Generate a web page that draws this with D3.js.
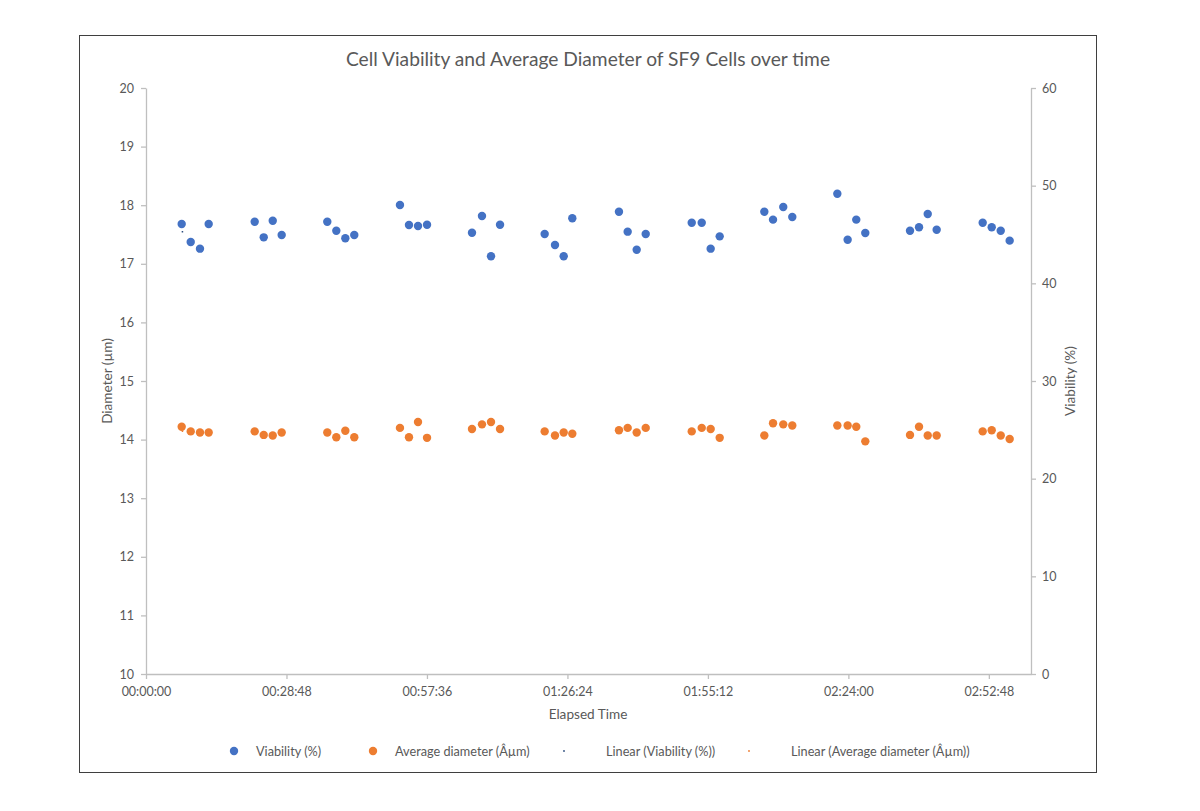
<!DOCTYPE html>
<html>
<head>
<meta charset="utf-8">
<script src="https://cdn.jsdelivr.net/npm/d3@7"></script>
<style>
  html, body { margin: 0; padding: 0; background: #ffffff; }
  svg { display: block; font-family: Lato, "Noto Sans", sans-serif; }
</style>
</head>
<body>
<svg id="chart" width="1200" height="811"></svg>
<script>
// ---- Data ----
const times = [
  "00:07:19","00:09:10","00:11:04","00:12:51",
  "00:22:17","00:24:08","00:25:59","00:27:49",
  "00:37:10","00:39:01","00:40:52","00:42:42",
  "00:52:04","00:53:55","00:55:46","00:57:37",
  "01:06:50","01:08:53","01:10:44","01:12:35",
  "01:21:44","01:23:51","01:25:38","01:27:24",
  "01:36:58","01:38:45","01:40:36","01:42:27",
  "01:51:53","01:53:56","01:55:46","01:57:37",
  "02:06:46","02:08:33","02:10:39","02:12:30",
  "02:21:44","02:23:51","02:25:37","02:27:28",
  "02:36:38","02:38:29","02:40:16","02:42:06",
  "02:51:32","02:53:23","02:55:14","02:57:04"
];
const viability = [
  46.07, 44.23, 43.55, 46.07,
  46.31, 44.71, 46.41, 44.95,
  46.31, 45.39, 44.61, 44.95,
  48.02, 45.97, 45.87, 46.00,
  45.18, 46.89, 42.77, 46.00,
  45.05, 43.92, 42.77, 46.66,
  47.33, 45.29, 43.44, 45.05,
  46.21, 46.21, 43.55, 44.81,
  47.33, 46.52, 47.82, 46.79,
  49.18, 44.47, 46.52, 45.15,
  45.39, 45.74, 47.10, 45.49,
  46.21, 45.74, 45.39, 44.37
];
const diameter = [
  14.22, 14.14, 14.12, 14.12,
  14.14, 14.08, 14.07, 14.12,
  14.12, 14.04, 14.15, 14.04,
  14.20, 14.04, 14.30, 14.03,
  14.18, 14.26, 14.30, 14.18,
  14.14, 14.07, 14.12, 14.10,
  14.16, 14.20, 14.12, 14.20,
  14.14, 14.20, 14.18, 14.03,
  14.07, 14.28, 14.26, 14.24,
  14.24, 14.24, 14.22, 13.97,
  14.08, 14.22, 14.07, 14.07,
  14.14, 14.16, 14.07, 14.01
];
const xTickLabels = ["00:00:00","00:28:48","00:57:36","01:26:24","01:55:12","02:24:00","02:52:48"];
const leftTicks = [10, 11, 12, 13, 14, 15, 16, 17, 18, 19, 20];
const rightTicks = [0, 10, 20, 30, 40, 50, 60];
const seriesNames = ["Viability (%)", "Average diameter (Âµm)", "Linear (Viability (%))", "Linear (Average diameter (Âµm))"];
const chartTitle = "Cell Viability and Average Diameter of SF9 Cells over time";

// ---- Helpers ----
const toSec = s => { const p = s.split(":").map(Number); return p[0]*3600 + p[1]*60 + p[2]; };
const fmt = sec => { const h = Math.floor(sec/3600), m = Math.floor((sec%3600)/60), s = Math.round(sec%60);
  return [h,m,s].map(v => String(v).padStart(2,"0")).join(":"); };
const secs = times.map(toSec);

const blue = "#4472C4", orange = "#ED7D31", textCol = "#595959", axisCol = "#bfbfbf";

const svg = d3.select("#chart");
const M = { left: 146, right: 1031, top: 88, bottom: 674 };

// Frame
svg.append("rect").attr("x", 79.5).attr("y", 35.5).attr("width", 1017).attr("height", 737)
  .attr("fill", "#fff").attr("stroke", "#3f3f3f").attr("stroke-width", 1);

// Scales
const x = d3.scaleLinear().domain([0, 0.126 * 86400]).range([M.left, M.right]);
const yL = d3.scaleLinear().domain([10, 20]).range([M.bottom, M.top]);
const yR = d3.scaleLinear().domain([0, 60]).range([M.bottom, M.top]);

// Axes
const xAxis = d3.axisBottom(x).tickValues(xTickLabels.map(toSec)).tickFormat(fmt).tickSize(5).tickSizeOuter(0);
const lAxis = d3.axisLeft(yL).tickValues(leftTicks).tickSize(5).tickSizeOuter(0);
const rAxis = d3.axisRight(yR).tickValues(rightTicks).tickSize(5).tickSizeOuter(0);

function styleAxis(g) {
  g.selectAll("path.domain").attr("stroke", axisCol).attr("stroke-width", 1.3);
  g.selectAll(".tick line").attr("stroke", axisCol).attr("stroke-width", 1.3);
  g.selectAll(".tick text").attr("fill", textCol).style("font-size", "12.5px").style("font-family", "Lato, 'Noto Sans', sans-serif");
}
svg.append("g").attr("transform", `translate(0,${M.bottom})`).call(xAxis).call(styleAxis)
  .selectAll(".tick text").attr("dy", "1.1em");
svg.append("g").attr("transform", `translate(${M.left},0)`).call(lAxis).call(styleAxis)
  .selectAll(".tick text").attr("x", -12);
svg.append("g").attr("transform", `translate(${M.right},0)`).call(rAxis).call(styleAxis)
  .selectAll(".tick text").attr("x", 11);

// Trendlines (dotted, essentially invisible except first dot)
function regress(xs, ys) {
  const mx = d3.mean(xs), my = d3.mean(ys);
  let num = 0, den = 0;
  xs.forEach((v, i) => { num += (v - mx) * (ys[i] - my); den += (v - mx) * (v - mx); });
  const b = num / den; return { a: my - b * mx, b };
}
const x0 = d3.min(secs), x1 = d3.max(secs);
const rv = regress(secs, viability), rd = regress(secs, diameter);
function trend(r, yScale, col) {
  svg.append("line")
    .attr("x1", x(x0)).attr("y1", yScale(r.a + r.b * x0))
    .attr("x2", x(x1)).attr("y2", yScale(r.a + r.b * x1))
    .attr("stroke", col).attr("stroke-width", 1.5).attr("stroke-dasharray", "1.5,5000");
}

// Points
svg.append("g").selectAll("circle").data(secs).join("circle")
  .attr("cx", d => x(d)).attr("cy", (d, i) => yL(diameter[i])).attr("r", 4.2).attr("fill", orange);
svg.append("g").selectAll("circle").data(secs).join("circle")
  .attr("cx", d => x(d)).attr("cy", (d, i) => yR(viability[i])).attr("r", 4.2).attr("fill", blue);
trend(rv, yR, "#2f4f7f");
trend(rd, yL, orange);

// Title
svg.append("text").attr("x", 588).attr("y", 66).attr("text-anchor", "middle")
  .attr("fill", textCol).style("font-size", "19.2px").text(chartTitle);

// Axis titles
svg.append("text").attr("x", 588).attr("y", 719).attr("text-anchor", "middle")
  .attr("fill", textCol).style("font-size", "13.6px").text("Elapsed Time");
svg.append("text").attr("transform", "translate(112,381) rotate(-90)").attr("text-anchor", "middle")
  .attr("fill", textCol).style("font-size", "13.6px").text("Diameter (µm)");
svg.append("text").attr("transform", "translate(1075,381) rotate(-90)").attr("text-anchor", "middle")
  .attr("fill", textCol).style("font-size", "13.6px").text("Viability (%)");

// Legend
const legendItems = [
  { name: seriesNames[0], col: blue, r: 4.2, mx: 234, tx: 256 },
  { name: seriesNames[1], col: orange, r: 4.2, mx: 373, tx: 395 },
  { name: seriesNames[2], col: "#2f4f7f", r: 0.9, mx: 564, tx: 606 },
  { name: seriesNames[3], col: orange, r: 0.9, mx: 749, tx: 791 }
];
const lg = svg.append("g");
legendItems.forEach(it => {
  lg.append("circle").attr("cx", it.mx).attr("cy", 751).attr("r", it.r).attr("fill", it.col);
  lg.append("text").attr("x", it.tx).attr("y", 755.5).attr("fill", textCol)
    .style("font-size", "12.7px").text(it.name);
});
</script>
</body>
</html>
